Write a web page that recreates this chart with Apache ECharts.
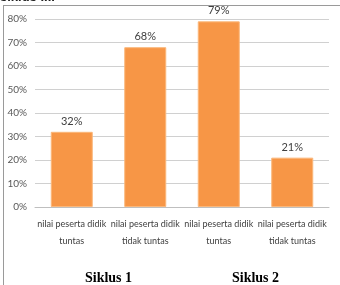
<!DOCTYPE html>
<html>
<head>
<meta charset="utf-8">
<script src="https://cdn.jsdelivr.net/npm/echarts@6/dist/echarts.min.js"></script>
<style>
    html, body { margin: 0; padding: 0; background: #fff; }
    #chart { width: 340px; height: 285px; }
</style>
</head>
<body>
<div id="chart"></div>
<script>
var categories = ['nilai peserta didik\ntuntas', 'nilai peserta didik\ntidak tuntas', 'nilai peserta didik\ntuntas', 'nilai peserta didik\ntidak tuntas'];
var values = [32, 68, 79, 21];
var groups = ['Siklus 1', 'Siklus 2'];

var myChart = echarts.init(document.getElementById('chart'));
var option = {
    animation: false,
    textStyle: { fontFamily: 'Lato, Liberation Sans, sans-serif' },
    grid: { left: 35, right: 11, top: 19, bottom: 76 },
    graphic: [
        // partially cut heading above the box
        { type: 'text', x: 0, y: -9, style: { text: 'siklus III.', font: 'bold 13px Liberation Sans, Arial', fill: '#222' } },
        // box border (top and left only visible)
        { type: 'line', shape: { x1: 3, y1: 5.5, x2: 340, y2: 5.5 }, style: { stroke: '#9a9a9a', lineWidth: 1 } },
        { type: 'line', shape: { x1: 3.5, y1: 5, x2: 3.5, y2: 285 }, style: { stroke: '#9a9a9a', lineWidth: 1 } }
    ],
    xAxis: [{
        type: 'category',
        data: categories,
        axisLine: { lineStyle: { color: '#bfbfbf' } },
        axisTick: { show: false },
        axisLabel: { interval: 0, color: '#404040', fontSize: 9, lineHeight: 17, margin: 9 }
    }, {
        type: 'category',
        data: groups,
        position: 'bottom',
        offset: 56,
        axisLine: { show: false },
        axisTick: { show: false },
        axisLabel: { interval: 0, color: '#000', fontSize: 14, fontWeight: 'bold', fontFamily: 'Liberation Serif, Times New Roman, serif' }
    }],
    yAxis: {
        type: 'value',
        min: 0,
        max: 80,
        interval: 10,
        axisLine: { show: false },
        axisTick: { show: false },
        axisLabel: { formatter: '{value}%', color: '#595959', fontSize: 10, margin: 8 },
        splitLine: { lineStyle: { color: '#d0d0d0' } }
    },
    series: [{
        type: 'bar',
        data: values,
        barWidth: 42,
        itemStyle: { color: '#f79646', borderColor: '#fbb77a', borderWidth: 1 },
        label: { show: true, position: 'top', formatter: '{c}%', color: '#404040', fontSize: 11, distance: 5 }
    }]
};
myChart.setOption(option);
</script>
</body>
</html>
